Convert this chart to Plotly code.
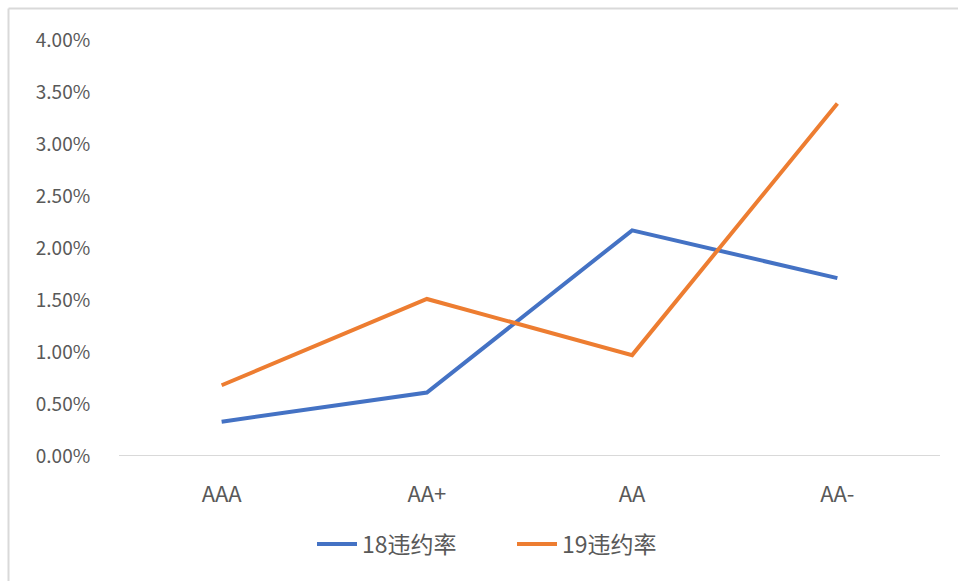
import plotly.graph_objects as go

categories = ["AAA", "AA+", "AA", "AA-"]
rate_18 = [0.0033, 0.0061, 0.0217, 0.0171]
rate_19 = [0.0068, 0.0151, 0.0097, 0.0339]
series_names = ["18违约率", "19违约率"]
y_ticks = [0, 0.005, 0.01, 0.015, 0.02, 0.025, 0.03, 0.035, 0.04]

FONT = "Noto Sans CJK SC, Noto Sans, sans-serif"

fig = go.Figure()
fig.add_trace(go.Scatter(x=categories, y=rate_18, mode="lines", name=series_names[0],
                         line=dict(color="#4472C4", width=4)))
fig.add_trace(go.Scatter(x=categories, y=rate_19, mode="lines", name=series_names[1],
                         line=dict(color="#ED7D31", width=4)))

L, R, T, B = 119, 18, 40, 125
W, H = 958, 581
pw = W - L - R
ph = H - T - B

fig.update_layout(
    width=W, height=H,
    margin=dict(l=L, r=R, t=T, b=B),
    paper_bgcolor="white", plot_bgcolor="white",
    font=dict(family=FONT, color="#595959", size=20),
    showlegend=True,
    legend=dict(orientation="h", x=(312 - L) / pw, xanchor="left", y=-0.2115, yanchor="middle",
                font=dict(size=23, color="#595959"), itemwidth=40, entrywidth=145),
    xaxis=dict(type="category", range=[-0.5, 3.5], showgrid=False, zeroline=False,
               showline=False, ticks="outside", ticklen=19, tickcolor="rgba(0,0,0,0)",
               tickfont=dict(size=22, color="#595959", family=FONT)),
    yaxis=dict(range=[0, 0.04], tickvals=y_ticks, tickformat=".2%", showgrid=False,
               zeroline=False, showline=False, ticks="outside", ticklen=24,
               tickcolor="rgba(0,0,0,0)",
               tickfont=dict(size=19, color="#595959", family=FONT)),
    shapes=[
        dict(type="line", xref="paper", yref="y", x0=0, x1=1, y0=0, y1=0,
             line=dict(color="#D9D9D9", width=2), layer="below"),
        dict(type="line", xref="paper", yref="paper",
             x0=(8.5 - L) / pw, x1=(8.5 - L) / pw, y0=(H - B - 8.5) / ph, y1=(H - B - 600) / ph,
             line=dict(color="#D9D9D9", width=2)),
        dict(type="line", xref="paper", yref="paper",
             x0=(8.5 - L) / pw, x1=(1000 - L) / pw, y0=(H - B - 8.5) / ph, y1=(H - B - 8.5) / ph,
             line=dict(color="#D9D9D9", width=2)),
    ],
)

fig.write_html("out.html")
